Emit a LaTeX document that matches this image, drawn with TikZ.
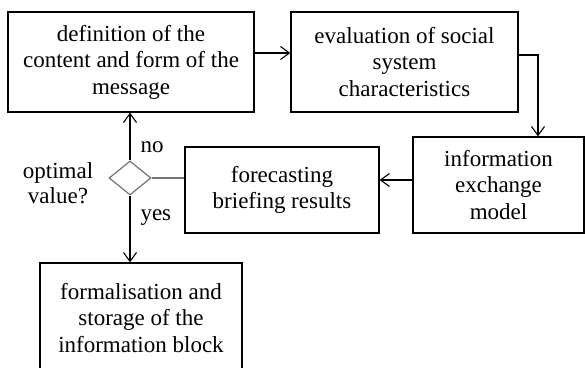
\documentclass[tikz,border=0pt]{standalone}
\usepackage{fontspec}
\setmainfont{Liberation Serif}
\usetikzlibrary{shapes.geometric,arrows.meta}
\tikzset{
  block/.style={draw, line width=1.2pt, align=center, inner sep=0pt,
    font=\fontsize{23}{26.5}\selectfont},
  decision/.style={diamond, draw=black!55, line width=1.2pt, inner sep=0pt,
    minimum width=42pt, minimum height=34pt},
  flow/.style={line width=1.2pt, -{Straight Barb[length=9pt,width=13pt,line width=1.1pt]}},
  lbl/.style={font=\fontsize{23}{25.5}\selectfont, align=center}
}
\begin{document}
\begin{tikzpicture}[x=1pt,y=1pt]
\useasboundingbox (0,0) rectangle (585,367);
\clip (0,0) rectangle (585,367);
% blocks
\node [block, minimum width=246pt, minimum height=100pt] (definition) at (131,305)
  {definition of the\\content and form of the\\message};
\node [block, minimum width=227pt, minimum height=100pt] (evaluation) at (404.5,305)
  {evaluation of social\\system\\characteristics};
\node [block, minimum width=171pt, minimum height=96pt] (exchange) at (498.5,182)
  {information\\exchange\\model};
\node [block, minimum width=194pt, minimum height=86pt] (forecast) at (282,177)
  {forecasting\\briefing results};
\node [decision] (optimal) at (130,189) {};
\node [block, minimum width=202pt, minimum height=110pt] (storage) at (141,49)
  {formalisation and\\storage of the\\information block};
% labels
\node [lbl] (question) at (58,184) {optimal\\value?};
\node [lbl, anchor=west] (no) at (137,220) {no};
\node [lbl, anchor=west] (yes) at (137,149) {yes};
% connectors
\draw [flow] ([yshift=9pt]definition.east) -- ([yshift=9pt]evaluation.west);
\draw [flow] ([yshift=7pt]evaluation.east) -| ([xshift=39.5pt]exchange.north);
\draw [flow] ([yshift=5pt]exchange.west) -- ([yshift=10pt]forecast.east);
\draw [line width=1.2pt, black!55] (optimal.east) -- (optimal.east -| forecast.west);
\draw [flow] (optimal.north) -- (optimal.north |- definition.south);
\draw [flow] (optimal.south) -- (optimal.south |- storage.north);
\end{tikzpicture}
\end{document}
